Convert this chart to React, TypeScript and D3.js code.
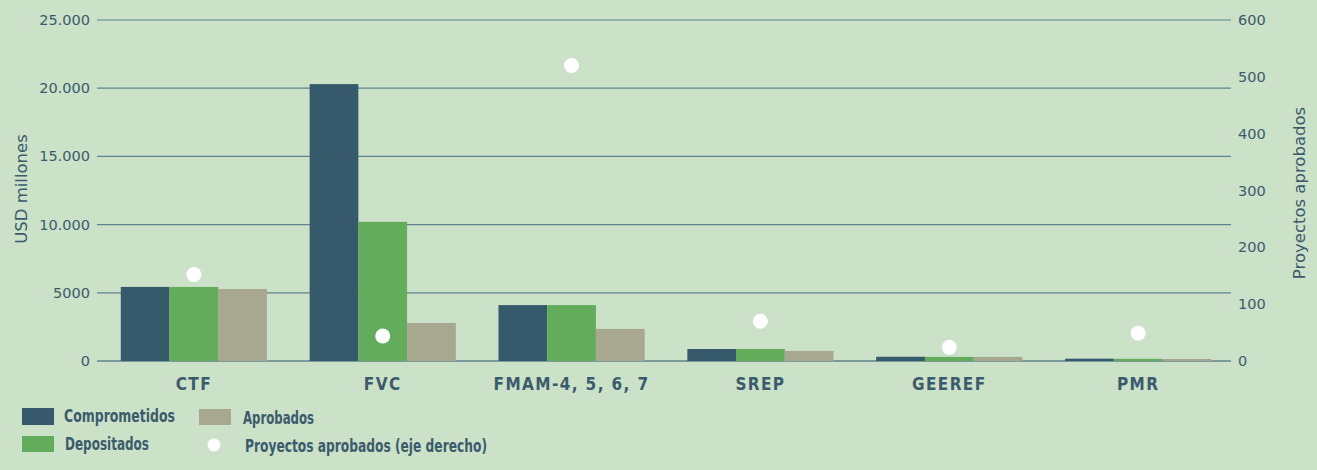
import React from "react";
import * as d3 from "d3";

const categories = ["CTF", "FVC", "FMAM-4, 5, 6, 7", "SREP", "GEEREF", "PMR"];
const comprometidos = [5430, 20300, 4100, 880, 310, 170];
const depositados = [5430, 10200, 4100, 880, 300, 160];
const aprobados = [5280, 2790, 2350, 740, 300, 150];
const proyectos = [152, 44, 520, 70, 24, 49];

const leftTicks = [0, 5000, 10000, 15000, 20000, 25000];
const leftTickLabels = ["0", "5000", "10.000", "15.000", "20.000", "25.000"];
const rightTicks = [0, 100, 200, 300, 400, 500, 600];

const seriesNames = ["Comprometidos", "Depositados", "Aprobados"];
const colors = ["#365a6c", "#62ac5c", "#a8a890"];
const textColor = "#3b5b6c";
const bg = "#cbe1c8";
const condensed = "'DejaVu Sans Condensed', 'DejaVu Sans', sans-serif";

const W = 1317;
const H = 470;

export default function App() {
  const x = d3
    .scaleBand()
    .domain(categories)
    .range([100, 1232])
    .paddingInner(0.226)
    .paddingOuter(0.11);

  const xs = d3.scaleBand().domain(seriesNames).range([0, x.bandwidth()]);

  const y = d3.scaleLinear().domain([0, 25000]).range([361, 20]);
  const yr = d3.scaleLinear().domain([0, 600]).range([361, 20]);

  const series = [comprometidos, depositados, aprobados];

  return (
    <div style={{ position: "absolute", left: 0, top: 0 }}>
      <svg width={W} height={H} style={{ display: "block" }}>
        <rect width={W} height={H} fill={bg} />

        {/* grid lines + left axis */}
        {leftTicks.map((t, i) => (
          <g key={t}>
            <line
              x1={97}
              x2={1231}
              y1={y(t)}
              y2={y(t)}
              stroke={t === 0 ? "#7a9a9c" : "#5d8390"}
              strokeWidth={t === 0 ? 2 : 1.2}
            />
            <text
              x={90}
              y={y(t)}
              dy="0.35em"
              textAnchor="end"
              fontFamily="DejaVu Sans"
              fontSize={14.5}
              fill={textColor}
            >
              {leftTickLabels[i]}
            </text>
          </g>
        ))}

        {/* right axis */}
        {rightTicks.map((t) => (
          <text
            key={t}
            x={1238}
            y={yr(t)}
            dy="0.35em"
            fontFamily="DejaVu Sans"
            fontSize={14.5}
            fill={textColor}
          >
            {t}
          </text>
        ))}

        <text
          transform={`translate(27,189) rotate(-90)`}
          textAnchor="middle"
          fontFamily="DejaVu Sans"
          fontSize={16.5}
          fill={textColor}
        >
          USD millones
        </text>
        <text
          transform={`translate(1305,193) rotate(-90)`}
          textAnchor="middle"
          fontFamily="DejaVu Sans"
          fontSize={16.5}
          fill={textColor}
        >
          Proyectos aprobados
        </text>

        {/* bars */}
        {series.map((vals, si) =>
          categories.map((c, ci) => (
            <rect
              key={`${si}-${ci}`}
              x={(x(c) ?? 0) + (xs(seriesNames[si]) ?? 0)}
              y={y(vals[ci])}
              width={xs.bandwidth()}
              height={y(0) - y(vals[ci])}
              fill={colors[si]}
            />
          ))
        )}

        {/* dots */}
        {categories.map((c, ci) => (
          <circle
            key={c}
            cx={(x(c) ?? 0) + x.bandwidth() / 2}
            cy={yr(proyectos[ci])}
            r={7.5}
            fill="#ffffff"
          />
        ))}

        {/* category labels */}
        {categories.map((c) => (
          <text
            key={c}
            x={(x(c) ?? 0) + x.bandwidth() / 2}
            y={390}
            textAnchor="middle"
            fontFamily={condensed}
            fontStretch="condensed"
            fontWeight={700}
            fontSize={17}
            letterSpacing={1.4}
            fill={textColor}
          >
            {c}
          </text>
        ))}

        {/* legend */}
        <g
          fontFamily={condensed}
          fontStretch="condensed"
          fontWeight={700}
          fontSize={17.5}
          fill={textColor}
        >
          <rect x={22} y={408} width={32} height={17} fill={colors[0]} />
          <text x={64} y={422} textLength={111} lengthAdjust="spacingAndGlyphs">
            Comprometidos
          </text>
          <rect x={22} y={436} width={32} height={16} fill={colors[1]} />
          <text x={65} y={450} textLength={84} lengthAdjust="spacingAndGlyphs">
            Depositados
          </text>
          <rect x={199} y={409} width={32} height={16} fill={colors[2]} />
          <text x={243} y={424} textLength={71} lengthAdjust="spacingAndGlyphs">
            Aprobados
          </text>
          <circle cx={214} cy={445} r={6.5} fill="#ffffff" />
          <text x={245} y={452} textLength={242} lengthAdjust="spacingAndGlyphs">
            Proyectos aprobados (eje derecho)
          </text>
        </g>
      </svg>
    </div>
  );
}
